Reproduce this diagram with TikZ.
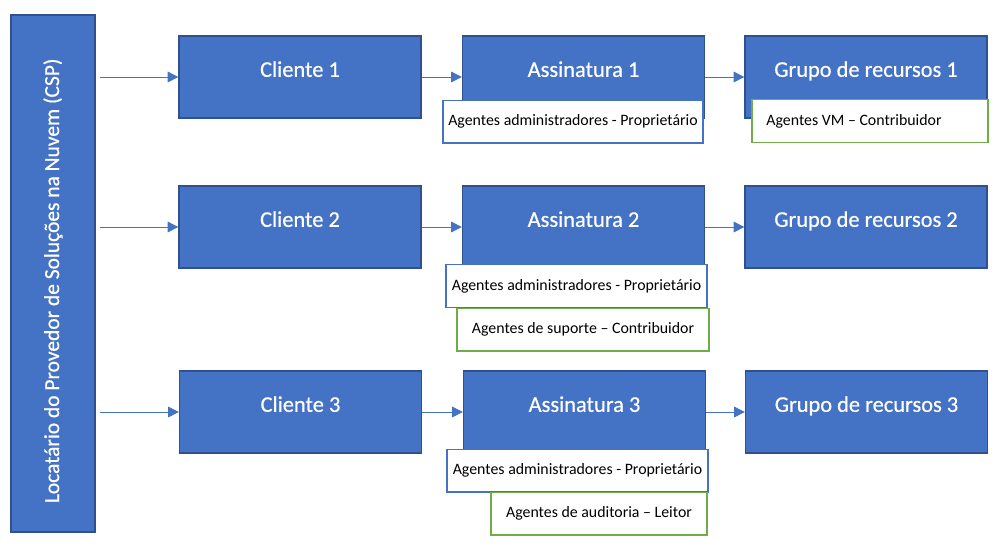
\documentclass[tikz,border=0pt]{standalone}
\usepackage{fontspec}
\setmainfont{Carlito}
\newfontfamily\titlefont[FakeBold=0.6]{Carlito}
\usetikzlibrary{arrows.meta}
\definecolor{bfill}{HTML}{4472C4}
\definecolor{bdraw}{HTML}{2F528F}
\definecolor{gdraw}{HTML}{70AD47}
\begin{document}
\begin{tikzpicture}[x=0.75pt,y=-0.75pt,
  bluebox/.style={draw=bdraw, fill=bfill, line width=1pt, minimum width=181.5pt, minimum height=61.5pt, inner sep=0pt},
  title/.style={text=white, font=\titlefont\fontsize{16.8}{20}\selectfont, yshift=3pt, text height=1.6ex, text depth=0.4ex},
  lblbox/.style={draw=bfill, fill=white, line width=1pt, font=\fontsize{11.9}{14}\selectfont, minimum height=32pt, inner sep=0pt, minimum width=#1*0.75pt},
  grnbox/.style={lblbox=#1, draw=gdraw},
  arr/.style={draw=bfill, line width=0.75pt, -{Triangle[length=8pt,width=8pt]}}]
\useasboundingbox (0,0) rectangle (1002,547);
% CSP
\node[bluebox, minimum width=63pt, minimum height=387.75pt,
  label={[rotate=90, text=white, font=\titlefont\fontsize{16.1}{20}\selectfont, xshift=-5.5pt]center:Locatário do Provedor de Soluções na Nuvem (CSP)}] (csp) at (53,273.5) {};
% Row 1
\node[bluebox, label={[title]center:Cliente 1}] (c1) at (300,77) {};
\node[bluebox, label={[title]center:Assinatura 1}] (a1) at (583.5,77) {};
\node[bluebox, label={[title]center:Grupo de recursos 1}] (g1) at (866,77) {};
\node[lblbox=260] (l1) at (573,121.5) {Agentes administradores - Proprietário};
\node[grnbox=236] (v1) at (870,121) {\hspace*{-24pt}Agentes VM – Contribuidor};
% Row 2
\node[bluebox, label={[title]center:Cliente 2}] (c2) at (300,227) {};
\node[bluebox, label={[title]center:Assinatura 2}] (a2) at (583.5,227) {};
\node[bluebox, label={[title]center:Grupo de recursos 2}] (g2) at (866,227) {};
\node[lblbox=261] (l2) at (576.5,286) {Agentes administradores - Proprietário};
\node[grnbox=252] (v2) at (583,329.5) {Agentes de suporte – Contribuidor};
% Row 3
\node[bluebox, label={[title]center:Cliente 3}] (c3) at (300.5,412) {};
\node[bluebox, label={[title]center:Assinatura 3}] (a3) at (584.5,412) {};
\node[bluebox, label={[title]center:Grupo de recursos 3}] (g3) at (866.5,412) {};
\node[lblbox=261] (l3) at (577.5,470.5) {Agentes administradores - Proprietário};
\node[grnbox=216] (v3) at (599,513.5) {Agentes de auditoria – Leitor};
% Arrows
\foreach \r in {1,2,3}{
  \draw[arr, shorten <=3pt] (csp.east |- c\r.west) -- (c\r.west);
  \draw[arr] (c\r.east) -- (a\r.west);
  \draw[arr] (a\r.east) -- (g\r.west);
}
\end{tikzpicture}
\end{document}
